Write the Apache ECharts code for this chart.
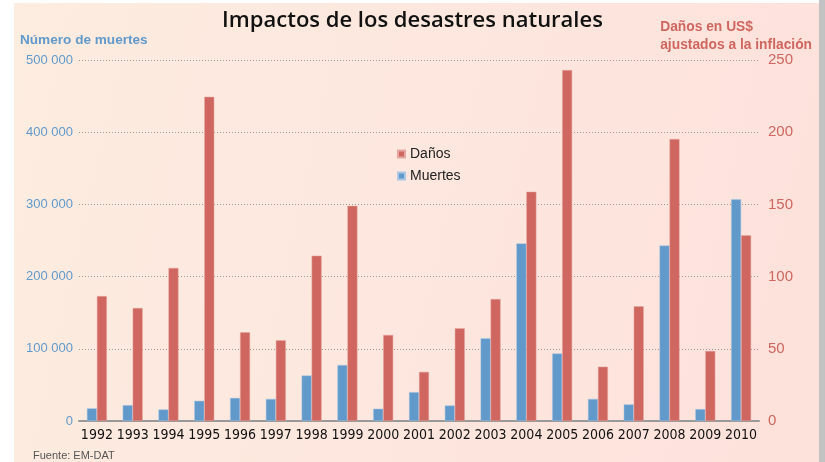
<!DOCTYPE html>
<html>
<head>
<meta charset="utf-8">
<script src="https://cdn.jsdelivr.net/npm/echarts@6/dist/echarts.min.js"></script>
<style>
  html, body { margin: 0; padding: 0; background: #fff; }
  #chart { width: 825px; height: 462px; }
</style>
</head>
<body>
<div id="chart"></div>
<script>
// años
const years = ['1992', '1993', '1994', '1995', '1996', '1997', '1998', '1999', '2000', '2001',
  '2002', '2003', '2004', '2005', '2006', '2007', '2008', '2009', '2010']
// número de muertes (eje izquierdo)
const muertes = [17500, 22000, 16000, 28000, 32000, 30500, 63000, 77500, 17000, 40000,
  21500, 114500, 246000, 93500, 30500, 23000, 243000, 16500, 307000]
// daños en US$ ajustados a la inflación (eje derecho)
const danos = [86.5, 78.3, 106, 224.5, 61.4, 55.9, 114.5, 149, 59.6, 34,
  64.2, 84.5, 158.8, 243, 37.6, 79.4, 195.3, 48.5, 128.6]
const leftTicks = [0, 100000, 200000, 300000, 400000, 500000]

const blue = '#6299cb'
const red = '#cf665f'

const chart = echarts.init(document.getElementById('chart'))

const option = {
  animation: false,
  backgroundColor: '#fff',
  graphic: [
    {
      type: 'rect', z: -10, silent: true,
      shape: { x: 14, y: 3, width: 805, height: 459 },
      style: {
        fill: new echarts.graphic.LinearGradient(0, 0, 1, 0.4, [
          { offset: 0, color: '#fdece0' },
          { offset: 1, color: '#fde2dc' }
        ])
      }
    },
    {
      type: 'rect', z: -10, silent: true,
      shape: { x: 819, y: 0, width: 6, height: 462 },
      style: { fill: '#c2c2c2' }
    },
    {
      type: 'text', left: 'center', top: 10,
      style: {
        text: 'Impactos de los desastres naturales',
        font: '600 22px "Open Sans", sans-serif',
        fill: '#111'
      }
    },
    {
      type: 'text', left: 20, top: 33,
      style: {
        text: 'Número de muertes',
        font: 'bold 13.6px "Liberation Sans", sans-serif',
        fill: blue
      }
    },
    {
      type: 'text', right: 13, top: 18,
      style: {
        text: 'Daños en US$\najustados a la inflación',
        font: 'bold 13.8px "Liberation Sans", sans-serif',
        fill: red,
        align: 'right',
        lineHeight: 18
      }
    },
    {
      type: 'text', left: 33, top: 450,
      style: {
        text: 'Fuente: EM-DAT',
        font: '11px "Liberation Sans", sans-serif',
        fill: '#555'
      }
    }
  ],
  legend: {
    orient: 'vertical',
    left: 392,
    top: 142,
    icon: 'rect',
    itemWidth: 7,
    itemHeight: 7,
    itemGap: 8,
    textStyle: { fontSize: 14, color: '#222', fontFamily: 'Liberation Sans' },
    data: ['Daños', 'Muertes']
  },
  grid: { left: 79, right: 66, top: 60, bottom: 41 },
  xAxis: {
    type: 'category',
    data: years,
    axisTick: { show: false },
    axisLine: { lineStyle: { color: '#999', width: 2 } },
    axisLabel: {
      interval: 0, color: '#111', fontSize: 14, margin: 7,
      fontFamily: '"Liberation Sans Narrow", "DejaVu Sans Condensed", sans-serif'
    }
  },
  yAxis: [
    {
      type: 'value',
      min: leftTicks[0],
      max: leftTicks[leftTicks.length - 1],
      interval: 100000,
      axisLine: { show: false },
      axisTick: { show: false },
      splitLine: { lineStyle: { color: '#999', type: [1, 2] } },
      axisLabel: {
        color: blue, fontSize: 13, margin: 6,
        formatter: v => v === 0 ? '0' : String(v).replace(/\B(?=(\d{3})+(?!\d))/g, ' ')
      }
    },
    {
      type: 'value',
      min: 0,
      max: 250,
      interval: 50,
      axisLine: { show: false },
      axisTick: { show: false },
      splitLine: { show: false },
      axisLabel: { color: red, fontSize: 15, margin: 9 }
    }
  ],
  series: [
    {
      name: 'Muertes',
      type: 'bar',
      yAxisIndex: 0,
      barWidth: 10,
      barGap: '0%',
      data: muertes,
      itemStyle: { color: blue, borderColor: '#a9c6e3', borderWidth: 0.5 }
    },
    {
      name: 'Daños',
      type: 'bar',
      yAxisIndex: 1,
      barWidth: 10,
      data: danos,
      itemStyle: { color: red, borderColor: '#e6a7a2', borderWidth: 0.5 }
    }
  ]
}

chart.setOption(option)
</script>
</body>
</html>
